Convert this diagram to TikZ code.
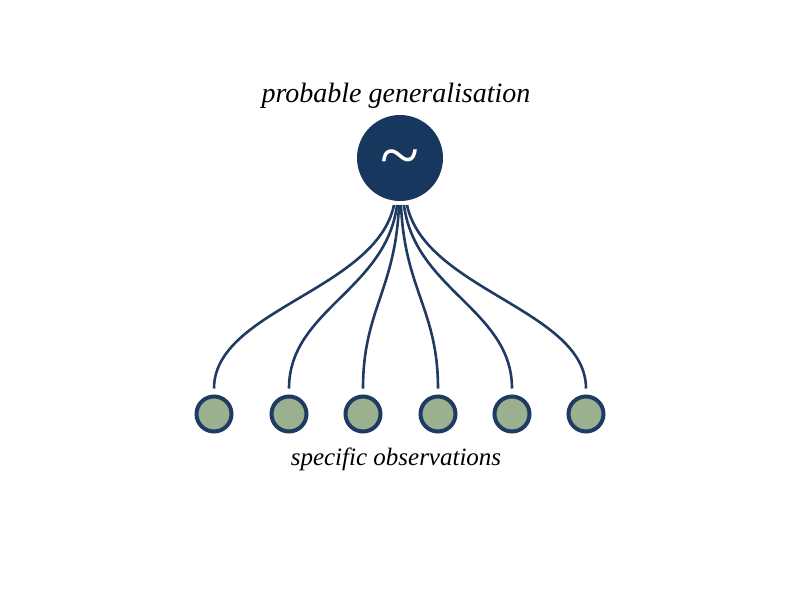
\documentclass[tikz,border=0pt]{standalone}
\usepackage{fontspec}
\setmainfont{Liberation Serif}
\definecolor{navy}{HTML}{18375F}
\definecolor{linenavy}{HTML}{1F3A63}
\definecolor{sage}{HTML}{9BB08E}
\begin{document}
\begin{tikzpicture}[x=1pt,y=-1pt,
  bigcirc/.style={circle,fill=navy,minimum size=86pt,inner sep=0pt},
  obs/.style={circle,draw=linenavy,line width=4pt,fill=sage,minimum size=35pt,inner sep=0pt},
  link/.style={draw=linenavy,line width=2.6pt,shorten >=6pt},
  lbl/.style={font=\itshape\fontsize{28}{32}\selectfont,text=black}]
\useasboundingbox (0,0) rectangle (800,600);
\node[bigcirc] (g) at (400,158) {};
\node[text=white,font=\fontsize{72}{72}\selectfont] (t) at (400,165) {\textasciitilde};
\node[lbl] (top) at (396,96) {probable generalisation};
\foreach \i/\x in {1/214,2/289,3/363,4/438,5/512,6/586}{
  \node[obs] (o\i) at (\x,414) {};
}
\node[lbl,font=\itshape\fontsize{25}{30}\selectfont] (bot) at (396,459) {specific observations};
\foreach \i/\s/\e in {1/394/214,2/397/289,3/399/363,4/401/438,5/404/512,6/407/586}{
  \coordinate (s\i) at (\s,205);
  \draw[link] (s\i) .. controls ({\s+0.1*(\e-\s)},290) and (\e,310) .. (o\i.north);
}
\end{tikzpicture}
\end{document}
